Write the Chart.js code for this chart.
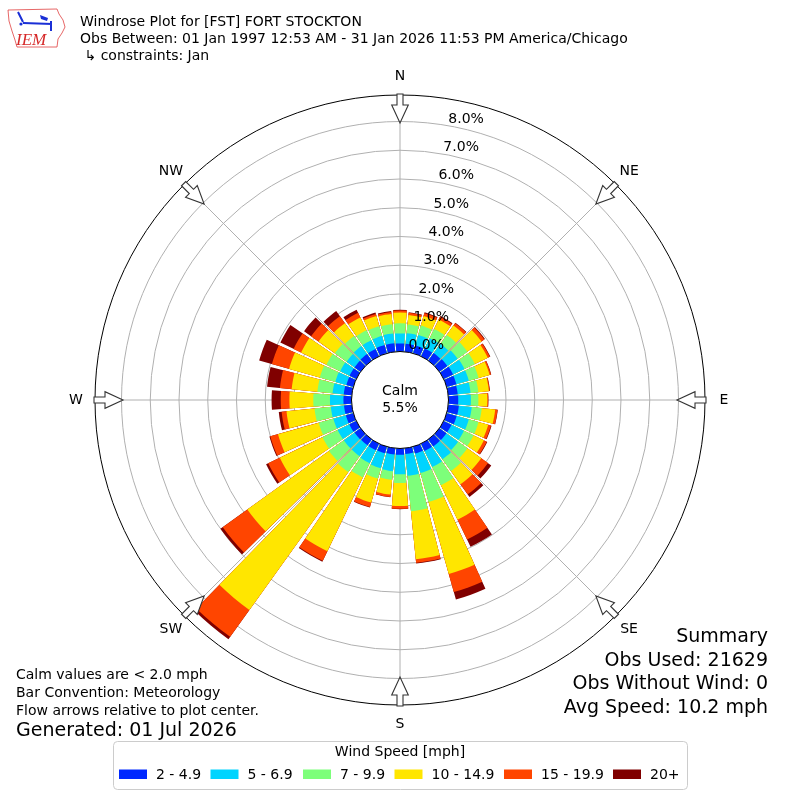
<!DOCTYPE html>
<html>
<head>
<meta charset="utf-8">
<title>Windrose Plot for [FST] FORT STOCKTON</title>
<script src="https://cdn.jsdelivr.net/npm/chart.js@4.4.1/dist/chart.umd.min.js"></script>
<style>
  html, body { margin: 0; padding: 0; background: #fff; }
  #wrap { width: 800px; height: 800px; }
</style>
</head>
<body>
<div id="wrap"><canvas id="rose" width="800" height="800"></canvas></div>
<script>
// direction of each bar, degrees clockwise from north
const directions = [0, 10, 20, 30, 40, 50, 60, 70, 80, 90, 100, 110,
                    120, 130, 140, 150, 160, 170, 180, 190, 200, 210, 220, 230,
                    240, 250, 260, 270, 280, 290, 300, 310, 320, 330, 340, 350];

const speedBins = ['2 - 4.9', '5 - 6.9', '7 - 9.9', '10 - 14.9', '15 - 19.9', '20+'];
const binColors = ['#0028ff', '#00d4ff', '#7dff7a', '#ffe600', '#ff4500', '#800000'];

// frequency (%) of each speed bin per direction
const speed2to5 = [0.28, 0.28, 0.28, 0.30, 0.32, 0.34, 0.36, 0.35, 0.33, 0.34, 0.37, 0.36,
                   0.30, 0.30, 0.30, 0.28, 0.25, 0.20, 0.22, 0.22, 0.24, 0.25, 0.25, 0.26,
                   0.27, 0.27, 0.27, 0.28, 0.28, 0.25, 0.26, 0.26, 0.28, 0.28, 0.30, 0.30];
const speed5to7 = [0.35, 0.37, 0.38, 0.40, 0.40, 0.44, 0.44, 0.45, 0.45, 0.44, 0.45, 0.44,
                   0.48, 0.50, 0.55, 0.62, 0.70, 0.76, 0.68, 0.58, 0.54, 0.50, 0.47, 0.46,
                   0.45, 0.45, 0.46, 0.47, 0.39, 0.40, 0.36, 0.34, 0.34, 0.34, 0.33, 0.34];
const speed7to10 = [0.35, 0.30, 0.34, 0.35, 0.38, 0.42, 0.40, 0.35, 0.27, 0.26, 0.35, 0.35,
                    0.37, 0.40, 0.50, 0.70, 1.05, 1.24, 0.30, 0.30, 0.37, 0.55, 0.68, 0.63,
                    0.58, 0.53, 0.57, 0.58, 0.53, 0.56, 0.53, 0.50, 0.43, 0.38, 0.35, 0.32];
const speed10to15 = [0.38, 0.33, 0.35, 0.37, 0.40, 0.60, 0.50, 0.40, 0.37, 0.31, 0.47, 0.35,
                     0.40, 0.59, 0.57, 1.33, 2.60, 1.68, 0.80, 0.52, 0.87, 2.85, 5.90, 3.50,
                     1.65, 1.47, 0.98, 0.83, 0.90, 1.11, 0.98, 0.70, 0.55, 0.50, 0.37, 0.36];
const speed15to20 = [0.07, 0.08, 0.10, 0.10, 0.10, 0.12, 0.08, 0.05, 0.03, 0.03, 0.08, 0.10,
                     0.11, 0.29, 0.43, 0.77, 0.65, 0.12, 0.10, 0.08, 0.16, 0.37, 1.15, 1.05,
                     0.45, 0.28, 0.17, 0.30, 0.41, 0.62, 0.29, 0.32, 0.30, 0.18, 0.07, 0.07];
const speed20plus = [0.02, 0.02, 0.03, 0.03, 0.02, 0.03, 0.02, 0.01, 0.01, 0.01, 0.01, 0.02,
                     0.02, 0.14, 0.11, 0.28, 0.27, 0.03, 0.01, 0.01, 0.02, 0.03, 0.10, 0.10,
                     0.08, 0.03, 0.10, 0.32, 0.45, 0.46, 0.51, 0.30, 0.22, 0.12, 0.05, 0.03];

const ringValues = [0, 1, 2, 3, 4, 5, 6, 7, 8];
const compassLabels = ['N', 'NE', 'E', 'SE', 'S', 'SW', 'W', 'NW'];
const compassDeg = [0, 45, 90, 135, 180, 225, 270, 315];
const calmPct = 5.5;

const headerLines = [
  'Windrose Plot for [FST] FORT STOCKTON',
  'Obs Between: 01 Jan 1997 12:53 AM - 31 Jan 2026 11:53 PM America/Chicago',
  ' \u21b3 constraints: Jan'
];
const noteLines = ['Calm values are < 2.0 mph', 'Bar Convention: Meteorology', 'Flow arrows relative to plot center.'];
const generatedLine = 'Generated: 01 Jul 2026';
const summaryLines = ['Summary', 'Obs Used: 21629', 'Obs Without Wind: 0', 'Avg Speed: 10.2 mph'];

// radial scale: 0% sits on the calm circle, outer circle a bit past 8.9%
const R_MIN = -1.687;
const R_MAX = 8.922;
const BAR_DEG = 8.7;
const GAP_DEG = 10 - BAR_DEG;
const FONT = '"DejaVu Sans", sans-serif';

const series = [speed2to5, speed5to7, speed7to10, speed10to15, speed15to20, speed20plus];

// stack the bins: each dataset holds the running total, smallest drawn on top
const totals = [];
series.forEach((arr, i) => {
  totals.push(arr.map((v, k) => (i ? totals[i - 1][k] : 0) + v));
});

// every bar is followed by an empty gap slice
function withGaps(arr) {
  const out = [];
  arr.forEach(v => { out.push(v); out.push(null); });
  return out;
}
const arcLabels = [];
directions.forEach(d => { arcLabels.push(d + '\u00b0'); arcLabels.push(''); });

const datasets = speedBins.map((bin, i) => ({
  label: bin,
  data: withGaps(totals[i]),
  backgroundColor: ctx => (ctx.dataIndex % 2 ? 'rgba(0,0,0,0)' : binColors[i]),
  borderWidth: 0,
  angle: ctx => (ctx.dataIndex % 2 ? GAP_DEG : BAR_DEG)
}));

function polar(s, deg, r) {
  const a = (deg - 90) * Math.PI / 180;
  return [s.xCenter + r * Math.cos(a), s.yCenter + r * Math.sin(a)];
}

function drawArrow(ctx, s, deg, rOut) {
  const a = (deg - 90) * Math.PI / 180;
  const ux = Math.cos(a), uy = Math.sin(a);
  const px = -uy, py = ux;
  const pts = [[rOut + 1, -3], [rOut - 10, -3], [rOut - 10, -8.3], [rOut - 28, 0],
               [rOut - 10, 8.3], [rOut - 10, 3], [rOut + 1, 3]];
  ctx.beginPath();
  pts.forEach(([r, w], i) => {
    const x = s.xCenter + r * ux + w * px;
    const y = s.yCenter + r * uy + w * py;
    if (i) ctx.lineTo(x, y); else ctx.moveTo(x, y);
  });
  ctx.closePath();
  ctx.fillStyle = '#fff';
  ctx.fill();
  ctx.lineWidth = 1.1;
  ctx.strokeStyle = '#333';
  ctx.stroke();
}

function drawLogo(ctx) {
  ctx.save();
  ctx.strokeStyle = '#e04040';
  ctx.lineWidth = 0.8;
  ctx.beginPath();
  [[8, 10], [57, 9], [59, 14], [63, 20], [65, 27], [62, 33], [58, 39], [57, 47],
   [17, 47], [15, 40], [12, 31], [9, 21]].forEach(([x, y], i) => (i ? ctx.lineTo(x, y) : ctx.moveTo(x, y)));
  ctx.closePath();
  ctx.stroke();
  ctx.strokeStyle = '#1a2fd6';
  ctx.fillStyle = '#1a2fd6';
  ctx.lineWidth = 2;
  ctx.beginPath();
  ctx.moveTo(18, 12); ctx.lineTo(23, 22);
  ctx.moveTo(23, 23); ctx.lineTo(52, 24);
  ctx.moveTo(51, 21); ctx.lineTo(51, 31);
  ctx.stroke();
  ctx.beginPath();
  ctx.moveTo(40, 15); ctx.lineTo(48, 18); ctx.lineTo(47, 21); ctx.lineTo(41, 19);
  ctx.closePath();
  ctx.fill();
  ctx.beginPath(); ctx.arc(21, 24, 1.6, 0, 2 * Math.PI); ctx.fill();
  ctx.fillStyle = '#d62828';
  ctx.font = 'italic 17px "Liberation Serif", serif';
  ctx.textAlign = 'left';
  ctx.textBaseline = 'alphabetic';
  ctx.fillText('IEM', 16, 45);
  ctx.restore();
}

const windroseDecor = {
  id: 'windroseDecor',
  beforeDatasetsDraw(chart) {
    const s = chart.scales.r, ctx = chart.ctx;
    ctx.save();
    ctx.strokeStyle = '#b0b0b0';
    ctx.lineWidth = 1;
    ringValues.forEach(v => {
      ctx.beginPath();
      ctx.arc(s.xCenter, s.yCenter, s.getDistanceFromCenterForValue(v), 0, 2 * Math.PI);
      ctx.stroke();
    });
    const r0 = s.getDistanceFromCenterForValue(0);
    const rMax = s.getDistanceFromCenterForValue(s.max);
    compassDeg.forEach(d => {
      const [x0, y0] = polar(s, d, r0);
      const [x1, y1] = polar(s, d, rMax);
      ctx.beginPath(); ctx.moveTo(x0, y0); ctx.lineTo(x1, y1); ctx.stroke();
    });
    ctx.restore();
  },
  afterDatasetsDraw(chart) {
    const s = chart.scales.r, ctx = chart.ctx;
    const r0 = s.getDistanceFromCenterForValue(0);
    const rMax = s.getDistanceFromCenterForValue(s.max);
    ctx.save();
    // calm circle
    ctx.beginPath();
    ctx.arc(s.xCenter, s.yCenter, r0, 0, 2 * Math.PI);
    ctx.fillStyle = '#fff';
    ctx.fill();
    ctx.lineWidth = 1;
    ctx.strokeStyle = '#000';
    ctx.stroke();
    ctx.fillStyle = '#000';
    ctx.font = '14px ' + FONT;
    ctx.textAlign = 'center';
    ctx.textBaseline = 'middle';
    ctx.fillText('Calm', s.xCenter, s.yCenter - 9);
    ctx.fillText(calmPct.toFixed(1) + '%', s.xCenter, s.yCenter + 8);
    // outer circle
    ctx.beginPath();
    ctx.arc(s.xCenter, s.yCenter, rMax, 0, 2 * Math.PI);
    ctx.strokeStyle = '#000';
    ctx.stroke();
    // compass arrows and names
    compassDeg.forEach((d, i) => {
      drawArrow(ctx, s, d, rMax);
      const [x, y] = polar(s, d, rMax + 19);
      ctx.fillStyle = '#000';
      ctx.font = '14px ' + FONT;
      ctx.textAlign = 'center';
      ctx.textBaseline = 'middle';
      ctx.fillText(compassLabels[i], x, y);
    });
    // ring labels
    ctx.font = '14px ' + FONT;
    ctx.textAlign = 'left';
    ctx.textBaseline = 'alphabetic';
    ctx.fillStyle = '#000';
    ringValues.forEach(v => {
      const [x, y] = polar(s, 10, s.getDistanceFromCenterForValue(v));
      ctx.fillText(v.toFixed(1) + '%', x, y - 3);
    });
    ctx.restore();
  },
  afterDraw(chart) {
    const ctx = chart.ctx;
    ctx.save();
    drawLogo(ctx);
    ctx.fillStyle = '#000';
    ctx.textBaseline = 'alphabetic';
    ctx.textAlign = 'left';
    ctx.font = '14px ' + FONT;
    headerLines.forEach((t, i) => ctx.fillText(t, 80, 25.5 + i * 17));

    ctx.font = '14px ' + FONT;
    noteLines.forEach((t, i) => ctx.fillText(t, 16, 679 + i * 18));
    ctx.font = '19px ' + FONT;
    ctx.fillText(generatedLine, 16, 736);

    ctx.textAlign = 'right';
    summaryLines.forEach((t, i) => ctx.fillText(t, 768, 642 + i * 23.5));

    // legend
    const lx = 113, ly = 741, lw = 574, lh = 48;
    ctx.beginPath();
    ctx.roundRect(lx + 0.5, ly + 0.5, lw, lh, 4);
    ctx.fillStyle = '#fff';
    ctx.fill();
    ctx.strokeStyle = '#cccccc';
    ctx.lineWidth = 1;
    ctx.stroke();
    ctx.fillStyle = '#000';
    ctx.font = '14px ' + FONT;
    ctx.textAlign = 'center';
    ctx.textBaseline = 'middle';
    ctx.fillText('Wind Speed [mph]', 400, 752);
    const itemX = [119, 210.5, 303, 394.5, 504, 613];
    ctx.textAlign = 'left';
    speedBins.forEach((bin, i) => {
      ctx.fillStyle = binColors[i];
      ctx.fillRect(itemX[i], 769.5, 28, 9.5);
      ctx.fillStyle = '#000';
      ctx.fillText(bin, itemX[i] + 37, 775);
    });
    ctx.restore();
  }
};

const chart = new Chart(document.getElementById('rose'), {
  type: 'polarArea',
  data: { labels: arcLabels, datasets: datasets },
  options: {
    responsive: false,
    animation: false,
    events: [],
    layout: { padding: 95 },
    plugins: { legend: { display: false }, tooltip: { enabled: false } },
    scales: {
      r: {
        min: R_MIN,
        max: R_MAX,
        startAngle: -BAR_DEG / 2,
        ticks: { display: false, stepSize: 1 },
        grid: { display: false },
        angleLines: { display: false },
        pointLabels: { display: false }
      }
    }
  },
  plugins: [windroseDecor]
});
</script>
</body>
</html>
